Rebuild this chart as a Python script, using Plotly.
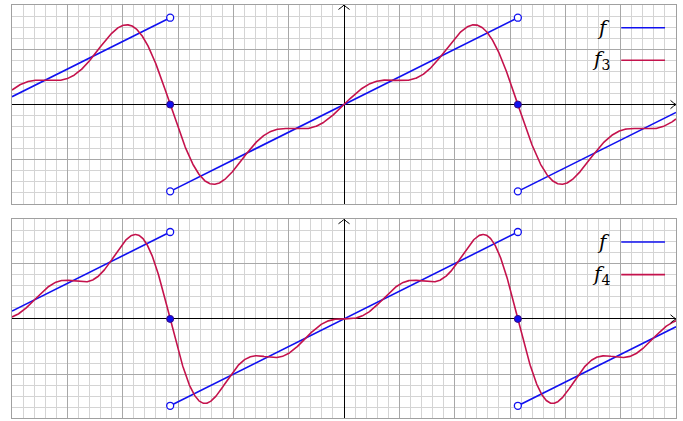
import numpy as np
import plotly.graph_objects as go

PI = np.pi

# sawtooth f(x) = x/2 on (-pi, pi), repeated
saw_x = [-6, -PI, None, -PI, PI, None, PI, 6]
saw_y = [(-6 + 2 * PI) / 2, PI / 2, None, -PI / 2, PI / 2, None, -PI / 2, (6 - 2 * PI) / 2]
open_x = [-PI, -PI, PI, PI]
open_y = [PI / 2, -PI / 2, PI / 2, -PI / 2]
jump_x = [-PI, PI]
jump_y = [0, 0]

# sine coefficients of the Fourier series of f
b_coeffs = [1.0, -1 / 2, 1 / 3, -1 / 4]
panels = [("f3", 3), ("f4", 4)]

BLUE = "#1010f0"
RED = "#c4124c"

x = np.linspace(-6, 6, 1500)


def partial_sum(n):
    return sum(b_coeffs[k] * np.sin((k + 1) * x) for k in range(n))


fig = go.Figure()
domains = [[0.5154, 0.988], [0.006, 0.479]]
shapes = []
annotations = []

for i, (name, n) in enumerate(panels):
    xa = "x" if i == 0 else "x2"
    ya = "y" if i == 0 else "y2"
    fig.add_trace(go.Scatter(x=saw_x, y=saw_y, mode="lines", line=dict(color=BLUE, width=1.6),
                             xaxis=xa, yaxis=ya, showlegend=False))
    fig.add_trace(go.Scatter(x=x, y=partial_sum(n), mode="lines", line=dict(color=RED, width=1.6),
                             xaxis=xa, yaxis=ya, showlegend=False))
    fig.add_trace(go.Scatter(x=open_x, y=open_y, mode="markers",
                             marker=dict(size=7, color="white", line=dict(color=BLUE, width=1.3)),
                             xaxis=xa, yaxis=ya, showlegend=False))
    fig.add_trace(go.Scatter(x=jump_x, y=jump_y, mode="markers",
                             marker=dict(size=7, color=BLUE, line=dict(color="#3a0a80", width=1)),
                             xaxis=xa, yaxis=ya, showlegend=False))

    # arrow heads on the axes
    shapes.append(dict(type="path", xref=xa, yref=ya, layer="above",
                       path="M 5.9,0.075 Q 5.96,0.02 6,0 Q 5.96,-0.02 5.9,-0.075",
                       line=dict(color="black", width=1)))
    shapes.append(dict(type="path", xref=xa, yref=ya, layer="above",
                       path="M -0.1,1.72 Q -0.03,1.77 0,1.8 Q 0.03,1.77 0.1,1.72",
                       line=dict(color="black", width=1)))

    # legend drawn in the plot area
    rows = [("<i>f</i>", BLUE, 1.39), ("<i>f</i><sub>%d</sub>" % n, RED, 0.80)]
    for label, col, yy in rows:
        shapes.append(dict(type="line", xref=xa, yref=ya, x0=5.01, x1=5.8, y0=yy, y1=yy,
                           line=dict(color=col, width=1.6), layer="above"))
        annotations.append(dict(xref=xa, yref=ya, x=4.85, y=yy, text=label, showarrow=False,
                                xanchor="right", yanchor="middle",
                                font=dict(family="DejaVu Serif", size=20, color="black")))

axis_common = dict(showticklabels=False, ticks="", showline=True, mirror=True,
                   linecolor="#a0a0a0", linewidth=1, gridcolor="#a8a8a8", gridwidth=1,
                   zeroline=True, zerolinecolor="black", zerolinewidth=1.2)

layout_axes = {}
for i in range(2):
    sx = "" if i == 0 else "2"
    layout_axes["xaxis" + sx] = dict(axis_common, range=[-6, 6], dtick=1, tick0=0,
                                     domain=[0.01757, 0.9898], anchor="y" + sx,
                                     minor=dict(dtick=0.2, tick0=0, showgrid=True,
                                                gridcolor="#d4d4d4", gridwidth=1))
    layout_axes["yaxis" + sx] = dict(axis_common, range=[-1.8, 1.8], dtick=1, tick0=0,
                                     domain=domains[i], anchor="x" + sx,
                                     minor=dict(dtick=0.2, tick0=0, showgrid=True,
                                                gridcolor="#d4d4d4", gridwidth=1))

fig.update_layout(
    width=683,
    height=421,
    margin=dict(l=0, r=0, t=0, b=0),
    paper_bgcolor="white",
    plot_bgcolor="white",
    shapes=shapes,
    annotations=annotations,
    **layout_axes,
)

fig.write_html("out.html", config={"displayModeBar": False},
               post_script="document.body.style.margin='0';")
